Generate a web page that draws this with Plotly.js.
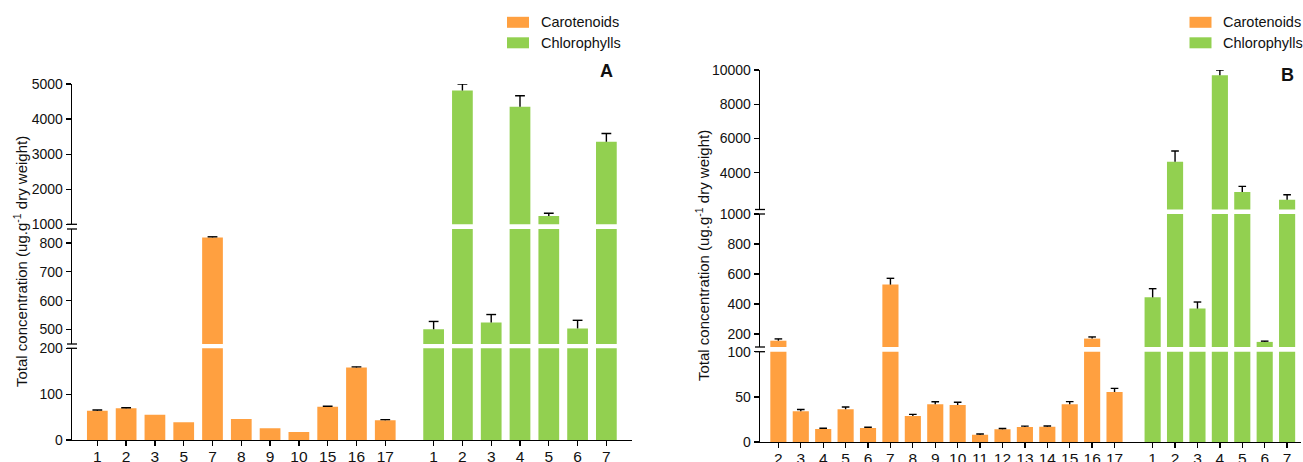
<!DOCTYPE html>
<html>
<head>
<meta charset="utf-8">
<script src="https://cdn.plot.ly/plotly-3.0.1.min.js"></script>
<style>
  html, body { margin: 0; padding: 0; background: #fff; }
  #chart { width: 1303px; height: 462px; }
</style>
</head>
<body>
<div id="chart"></div>
<script>
// ---- Panel A data ----
const caroLabelsA = ['1', '2', '3', '5', '7', '8', '9', '10', '15', '16', '17'];
const caroA       = [64, 69, 55, 38.5, 819, 46, 25.5, 17.5, 72.7, 158, 43];
const caroErrA    = [1.5, 1.5, null, null, 2, null, null, null, 1, 1.5, 1.5];
const chloLabelsA = ['1', '2', '3', '4', '5', '6', '7'];
const chloA       = [501, 4817, 524, 4351, 1237, 504, 3351];
const chloErrA    = [27, 183, 28, 315, 77, 28, 238];

// ---- Panel B data ----
const caroLabelsB = ['2', '3', '4', '5', '6', '7', '8', '9', '10', '11', '12', '13', '14', '15', '16', '17'];
const caroB       = [155, 34, 14.4, 36.2, 15.5, 529, 28.8, 41.7, 41, 8.1, 14, 16.6, 17, 41.7, 169, 55.4];
const caroErrB    = [12, 2, 0.8, 2.5, 0.8, 42, 1.8, 2.9, 3, 0.8, 1, 1, 0.8, 3, 11, 4];
const chloLabelsB = ['1', '2', '3', '4', '5', '6', '7'];
const chloB       = [444, 4643, 369, 9689, 2873, 147, 2423];
const chloErrB    = [58, 625, 44, 310, 330, 5, 290];

// ---- styling ----
const ORANGE = '#FFA040';
const GREEN  = '#92D050';
const FONT   = 'Liberation Sans, Arial, Helvetica, sans-serif';
const INK    = '#111111';
const W = 1303, H = 462;
const px = v => v / W;          // page pixel -> paper x
const py = v => 1 - v / H;      // page pixel -> paper y

const TITLE_Y = 'Total concentration (ug.g<sup>-1</sup> dry weight)';

// Each panel: one x axis and three stacked y segments (broken axis).
const panels = [
  {
    tag: 'A', xName: 'x', yNames: ['y', 'y2', 'y3'],
    caroLabels: caroLabelsA, caro: caroA, caroErr: caroErrA,
    chloLabels: chloLabelsA, chlo: chloA, chloErr: chloErrA,
    xPx: [72, 632], gap: 1.68, padL: 0.88, padR: 0.89,
    segments: [
      { range: [0, 200],     px: [440, 348.3], tickvals: [0, 100, 200] },
      { range: [450, 848],   px: [344, 229],   tickvals: [500, 600, 700, 800] },
      { range: [1000, 5000], px: [224.3, 84],  tickvals: [1000, 2000, 3000, 4000, 5000] }
    ],
    titleX: 20, titleY: 262, letterX: 606, letterY: 71,
    legendX: 507, legendTextX: 539
  },
  {
    tag: 'B', xName: 'x2', yNames: ['y4', 'y5', 'y6'],
    caroLabels: caroLabelsB, caro: caroB, caroErr: caroErrB,
    chloLabels: chloLabelsB, chlo: chloB, chloErr: chloErrB,
    xPx: [760, 1301], gap: 1.7, padL: 0.82, padR: 0.62,
    segments: [
      { range: [0, 100],      px: [442, 351.7], tickvals: [0, 50, 100] },
      { range: [113, 1000],   px: [347, 214],   tickvals: [200, 400, 600, 800, 1000] },
      { range: [1850, 10000], px: [209.5, 70],  tickvals: [4000, 6000, 8000, 10000] }
    ],
    titleX: 702, titleY: 256, letterX: 1287, letterY: 75,
    legendX: 1189.5, legendTextX: 1220.5
  }
];

const traces = [];
const layout = {
  width: W, height: H,
  margin: { l: 0, r: 0, t: 0, b: 0 },
  paper_bgcolor: '#fff', plot_bgcolor: 'rgba(0,0,0,0)',
  showlegend: false,
  barmode: 'overlay',
  font: { family: FONT, color: INK, size: 14 },
  shapes: [], annotations: []
};

const axKey = n => (n.length === 1 ? n + 'axis' : n[0] + 'axis' + n.slice(1));

// Whisker (upper error bar) path as a line trace: stem + cap
function whiskers(xs, vals, errs, halfCap) {
  const X = [], Y = [];
  xs.forEach((x, i) => {
    const e = errs[i];
    if (e === null || e === undefined) return;
    const top = vals[i] + e;
    X.push(x, x, null, x - halfCap, x + halfCap, null);
    Y.push(vals[i], top, null, top, top, null);
  });
  return { X, Y };
}

panels.forEach(p => {
  const nC = p.caro.length;
  const caroX = p.caro.map((_, i) => i);
  const chloX = p.chlo.map((_, j) => nC - 1 + p.gap + j);
  const xMin = -p.padL, xMax = chloX[chloX.length - 1] + p.padR;

  layout[axKey(p.xName)] = {
    domain: [px(p.xPx[0]), px(p.xPx[1])],
    range: [xMin, xMax],
    anchor: p.yNames[0],
    showline: true, linecolor: '#000', linewidth: 1.3,
    ticks: 'outside', ticklen: 5, tickwidth: 1.3, tickcolor: '#000',
    ticklabelstandoff: -3,
    tickmode: 'array',
    tickvals: caroX.concat(chloX),
    ticktext: p.caroLabels.concat(p.chloLabels),
    tickfont: { size: 15.5, color: INK, family: FONT },
    showgrid: false, zeroline: false, fixedrange: true
  };

  p.segments.forEach((s, k) => {
    const yName = p.yNames[k];
    layout[axKey(yName)] = {
      domain: [py(s.px[0]), py(s.px[1])],
      range: s.range,
      anchor: p.xName,
      showline: true, linecolor: '#000', linewidth: 1.3,
      ticks: 'outside', ticklen: 5, tickwidth: 1.3, tickcolor: '#000',
      tickmode: 'array', tickvals: s.tickvals,
      ticktext: s.tickvals.map(v => String(v)),
      tickfont: { size: 14, color: INK, family: FONT },
      showgrid: false, zeroline: false, fixedrange: true
    };

    // bars for this segment (clipped to its range)
    traces.push({
      type: 'bar', x: caroX, y: p.caro, width: 0.72,
      xaxis: p.xName, yaxis: yName,
      marker: { color: ORANGE, line: { width: 0 } }, hoverinfo: 'skip'
    });
    traces.push({
      type: 'bar', x: chloX, y: p.chlo, width: 0.72,
      xaxis: p.xName, yaxis: yName,
      marker: { color: GREEN, line: { width: 0 } }, hoverinfo: 'skip'
    });

    // upper error whiskers
    [[caroX, p.caro, p.caroErr], [chloX, p.chlo, p.chloErr]].forEach(([xs, v, e]) => {
      const w = whiskers(xs, v, e, 0.17);
      traces.push({
        type: 'scatter', mode: 'lines', x: w.X, y: w.Y,
        xaxis: p.xName, yaxis: yName,
        line: { color: '#000', width: 1.4 }, hoverinfo: 'skip'
      });
    });

    // break caps on the axis line at internal segment ends
    const axX = px(p.xPx[0]);
    const capL = 5 / W;
    if (k < p.segments.length - 1) {
      layout.shapes.push({ type: 'line', xref: 'paper', yref: 'paper',
        x0: axX - capL, x1: axX + capL, y0: py(s.px[1]), y1: py(s.px[1]),
        line: { color: '#000', width: 1.3 } });
    }
    if (k > 0) {
      layout.shapes.push({ type: 'line', xref: 'paper', yref: 'paper',
        x0: axX - capL, x1: axX + capL, y0: py(s.px[0]), y1: py(s.px[0]),
        line: { color: '#000', width: 1.3 } });
    }
  });

  // y title
  layout.annotations.push({
    xref: 'paper', yref: 'paper', x: px(p.titleX), y: py(p.titleY),
    text: TITLE_Y, textangle: -90, showarrow: false,
    xanchor: 'center', yanchor: 'middle',
    font: { size: 15, color: INK, family: FONT }
  });

  // panel letter
  layout.annotations.push({
    xref: 'paper', yref: 'paper', x: px(p.letterX), y: py(p.letterY),
    text: '<b>' + p.tag + '</b>', showarrow: false,
    xanchor: 'center', yanchor: 'middle',
    font: { size: 18, color: INK, family: FONT }
  });

  // legend keys
  [['Carotenoids', ORANGE, 22.3], ['Chlorophylls', GREEN, 42.8]].forEach(([name, col, cy]) => {
    layout.shapes.push({
      type: 'rect', xref: 'paper', yref: 'paper',
      x0: px(p.legendX), x1: px(p.legendX + 22),
      y0: py(cy + 5.5), y1: py(cy - 5.5),
      fillcolor: col, line: { width: 0 }
    });
    layout.annotations.push({
      xref: 'paper', yref: 'paper', x: px(p.legendTextX), y: py(cy),
      text: name, showarrow: false, xanchor: 'left', yanchor: 'middle',
      font: { size: 14.5, color: INK, family: FONT }
    });
  });
});

Plotly.newPlot('chart', traces, layout, { staticPlot: true, displayModeBar: false });
</script>
</body>
</html>
